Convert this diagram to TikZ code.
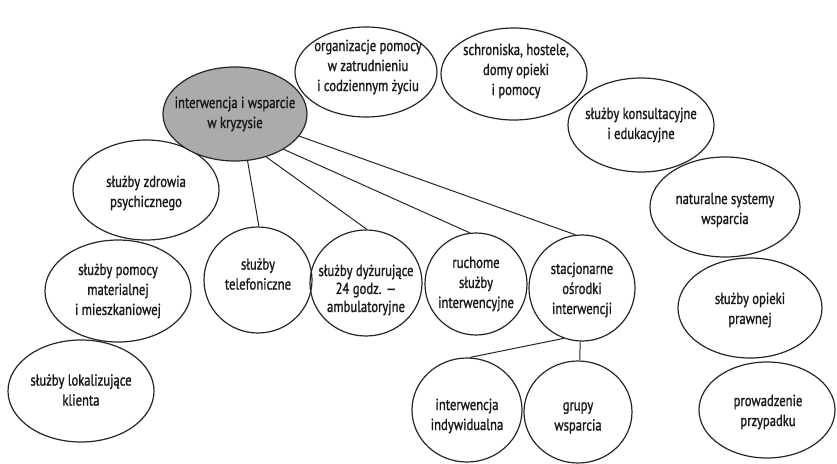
\documentclass[tikz,border=0pt]{standalone}
\usepackage{fontspec}
\setmainfont{PT Sans}[FakeStretch=0.79, FakeBold=1.2]
\usetikzlibrary{shapes.geometric}
\tikzset{
  bub/.style={ellipse, draw=black!85, line width=1.2pt, inner sep=0pt},
  hub/.style={bub, fill=black!33},
  txt/.style={align=center, inner sep=0pt, text=black!90, font=\fontsize{16}{20}\selectfont},
  conn/.style={draw=black!85, line width=1pt}
}
\begin{document}
\begin{tikzpicture}[x=1pt,y=-1pt]
\useasboundingbox (0,0) rectangle (837,463);
% outer bubbles
\node[bub, minimum width=142pt, minimum height=90pt] (org) at (366,72) {};
\node[bub, minimum width=146pt, minimum height=92pt] (sch) at (514,74) {};
\node[bub, minimum width=146pt, minimum height=94pt] (kon) at (641,125) {};
\node[bub, minimum width=150pt, minimum height=100pt] (nat) at (725,207) {};
\node[bub, minimum width=144pt, minimum height=100pt] (pra) at (750,308) {};
\node[bub, minimum width=136pt, minimum height=96pt] (prow) at (767,410) {};
\node[bub, minimum width=146pt, minimum height=100pt] (zdr) at (146,190) {};
\node[bub, minimum width=146pt, minimum height=102pt] (mat) at (118,291) {};
\node[bub, minimum width=146pt, minimum height=102pt] (lok) at (81,391) {};
\node[bub, minimum width=108pt, minimum height=106pt] (tel) at (258,280) {};
\node[bub, minimum width=112pt, minimum height=106pt] (dyz) at (366,283) {};
\node[bub, minimum width=102pt, minimum height=102pt] (ruch) at (476,284) {};
\node[bub, minimum width=106pt, minimum height=106pt] (stac) at (582,288) {};
\node[bub, minimum width=110pt, minimum height=104pt] (ind) at (467,410) {};
\node[bub, minimum width=108pt, minimum height=102pt] (gru) at (578,412) {};
% central bubble
\node[hub, minimum width=144pt, minimum height=94pt] (c) at (235,114) {};
% connectors
\draw[conn] (c.-75) -- (tel.89);
\draw[conn] (c.-54) -- (dyz.89);
\draw[conn] (c.-36) -- (ruch.97);
\draw[conn] (c.-19) -- (stac.97);
\draw[conn] (stac.-110) -- (ind.87);
\draw[conn] (stac.-92) -- (gru.88);
% texts
\node[txt] (c-t) at (235,114) {interwencja i wsparcie\\w kryzysie};
\node[txt] (org-t) at (368,67) {organizacje pomocy\\w zatrudnieniu\\i codziennym życiu};
\node[txt] (sch-t) at (516,71) {schroniska, hostele,\\domy opieki\\i pomocy};
\node[txt] (kon-t) at (641,125) {służby konsultacyjne\\i edukacyjne};
\node[txt] (nat-t) at (725,210) {naturalne systemy\\wsparcia};
\node[txt] (pra-t) at (750,310) {służby opieki\\prawnej};
\node[txt] (prow-t) at (768,412) {prowadzenie\\przypadku};
\node[txt] (zdr-t) at (146,193) {służby zdrowia\\psychicznego};
\node[txt] (mat-t) at (118,291) {służby pomocy\\materialnej\\i mieszkaniowej};
\node[txt] (lok-t) at (81,390) {służby lokalizujące\\klienta};
\node[txt] (tel-t) at (258,274) {służby\\telefoniczne};
\node[txt, font=\fontsize{16}{18}\selectfont] (dyz-t) at (366,290) {służby dyżurujące\\24 godz. —\\ambulatoryjne};
\node[txt] (ruch-t) at (476,284) {ruchome\\służby\\interwencyjne};
\node[txt] (stac-t) at (582,290) {stacjonarne\\ośrodki\\interwencji};
\node[txt] (ind-t) at (467,416) {interwencja\\indywidualna};
\node[txt] (gru-t) at (578,418) {grupy\\wsparcia};
\end{tikzpicture}
\end{document}
